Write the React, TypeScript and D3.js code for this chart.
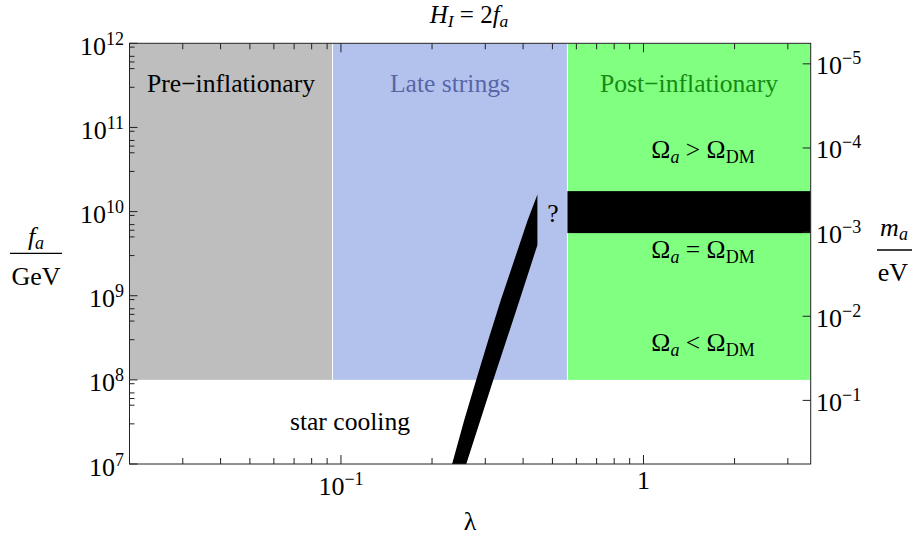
import React from 'react';
import * as d3 from 'd3';

// axis ranges
const lambdaDomain = [0.02, 3.57];
const faDomain = [1e7, 1e12];
const maPerFa = 5.7e6; // m_a [eV] = 5.7e6 / (f_a / GeV)

// ticks
const lambdaMajor = [0.1, 1];
const lambdaLabels = [
  { v: 0.1, base: '10', exp: '−1' },
  { v: 1, base: '1', exp: '' },
];
const lambdaMinorMult = [2, 3, 4, 5, 6, 7, 8, 9];
const faExps = [7, 8, 9, 10, 11, 12];
const faMinorMult = [3, 5, 6, 7, 9];
const maExps = [-5, -4, -3, -2, -1];

// regions
const regionNames = ['Pre−inflationary', 'Late strings', 'Post−inflationary'];
const regionEdges = [0.02, 0.0938, 0.5604, 3.57];
const regionFa = [1e8, 1e12];
const bandLambda = [0.5604, 3.57];
const bandFa = [5.55e9, 1.75e10];

// late-string strip
const stripLeftLambda = [0.233, 0.256, 0.28, 0.307, 0.338, 0.374, 0.414, 0.446];
const stripLeftFa = [1e7, 3.4e7, 1e8, 3e8, 9e8, 2.65e9, 7.9e9, 1.6e10];
const stripRightLambda = [0.446, 0.39, 0.319, 0.2595];
const stripRightFa = [4e9, 9e8, 1e8, 1e7];

const regionFill = ['#bebebe', '#b3c2ed', '#80ff80'];
const regionText = ['#000', '#5666a8', '#168a16'];

const W = 913;
const H = 546;
const m = { left: 129.5, right: 810.7, top: 43.3, bottom: 464 };
const serif = 'Liberation Serif, Times New Roman, Times, DejaVu Serif, serif';

export default function App() {
  const x = d3.scaleLog().domain(lambdaDomain).range([m.left, m.right]);
  const y = d3.scaleLog().domain(faDomain).range([m.bottom, m.top]);
  const yM = d3.scaleLog()
    .domain([maPerFa / faDomain[1], maPerFa / faDomain[0]])
    .range([m.top, m.bottom]);

  const lambdaMinor: number[] = [];
  [0.01, 0.1, 1].forEach(d => lambdaMinorMult.forEach(k => {
    const v = d * k;
    if (v > lambdaDomain[0] && v < lambdaDomain[1]) lambdaMinor.push(v);
  }));
  const faMinor: number[] = [];
  faExps.slice(0, -1).forEach(e => faMinorMult.forEach(k => faMinor.push(k * Math.pow(10, e))));

  const stripPts: [number, number][] = [
    ...stripLeftLambda.map((l, i) => [l, stripLeftFa[i]] as [number, number]),
    ...stripRightLambda.map((l, i) => [l, stripRightFa[i]] as [number, number]),
  ];
  const strip = d3.line<[number, number]>().x(d => x(d[0])).y(d => y(d[1]))(stripPts) + 'Z';

  const frame = '#222';
  const tp = { fontFamily: serif };

  return (
    <div style={{ position: 'absolute', left: 0, top: 0 }}>
      <svg width={W} height={H} style={{ display: 'block' }} fontFamily={serif}>
        <rect width={W} height={H} fill="#fff" />
        <defs>
          <clipPath id="plot">
            <rect x={m.left} y={m.top} width={m.right - m.left} height={m.bottom - m.top} />
          </clipPath>
        </defs>

        <g clipPath="url(#plot)">
          {regionNames.map((n, i) => (
            <rect key={n}
              x={x(regionEdges[i]) + (i > 0 ? 0.5 : 0)}
              y={y(regionFa[1])}
              width={x(regionEdges[i + 1]) - x(regionEdges[i]) - (i > 0 ? 0.5 : 0) - (i < 2 ? 0.5 : 0)}
              height={y(regionFa[0]) - y(regionFa[1])}
              fill={regionFill[i]} />
          ))}
          <rect x={x(bandLambda[0])} y={y(bandFa[1])}
            width={x(bandLambda[1]) - x(bandLambda[0])}
            height={y(bandFa[0]) - y(bandFa[1])} fill="#000" />
          <path d={strip} fill="#000" />
        </g>

        {/* region labels */}
        {regionNames.map((n, i) => (
          <text key={n} {...tp} x={(x(regionEdges[i]) + x(regionEdges[i + 1])) / 2} y={91.7}
            textAnchor="middle" fontSize={25.6} fill={regionText[i]}>{n}</text>
        ))}
        {[['>', 158.3], ['=', 258.4], ['<', 351]].map(([op, yy]) => (
          <text key={op as string} {...tp} x={703} y={yy as number} textAnchor="middle" fontSize={25.6}>
            <tspan>Ω</tspan>
            <tspan fontStyle="italic" fontSize={18} dy={5}>a</tspan>
            <tspan dy={-5}>{` ${op} Ω`}</tspan>
            <tspan fontSize={18} dy={5}>DM</tspan>
          </text>
        ))}
        <text {...tp} x={553} y={222} textAnchor="middle" fontSize={25.6}>?</text>
        <text {...tp} x={350} y={430} textAnchor="middle" fontSize={25.6}>star cooling</text>

        {/* frame */}
        <rect x={m.left} y={m.top} width={m.right - m.left} height={m.bottom - m.top}
          fill="none" stroke={frame} strokeWidth={1} />

        {/* x ticks, bottom and top */}
        {lambdaMinor.map(v => (
          <g key={'xm' + v} stroke={frame}>
            <line x1={x(v)} x2={x(v)} y1={m.bottom} y2={m.bottom - 6} />
            <line x1={x(v)} x2={x(v)} y1={m.top} y2={m.top + 6} />
          </g>
        ))}
        {lambdaMajor.map(v => (
          <g key={'xM' + v} stroke={frame}>
            <line x1={x(v)} x2={x(v)} y1={m.bottom} y2={m.bottom - 9} />
            <line x1={x(v)} x2={x(v)} y1={m.top} y2={m.top + 9} />
          </g>
        ))}
        {lambdaLabels.map(t => (
          <text key={'xl' + t.v} {...tp} x={x(t.v)} y={t.exp ? 495 : 489} textAnchor="middle" fontSize={26}>
            <tspan>{t.base}</tspan>
            {t.exp && <tspan fontSize={18} dy={-10}>{t.exp}</tspan>}
          </text>
        ))}

        {/* f_a ticks, left */}
        {faMinor.map(v => (
          <line key={'ym' + v} x1={m.left} x2={m.left + 5} y1={y(v)} y2={y(v)} stroke={frame} />
        ))}
        {faExps.map(e => (
          <g key={'yM' + e}>
            <line x1={m.left} x2={m.left + 8} y1={y(Math.pow(10, e))} y2={y(Math.pow(10, e))} stroke={frame} />
            <text {...tp} x={124} y={y(Math.pow(10, e)) + 11.5} textAnchor="end" fontSize={26}>
              <tspan>10</tspan>
              <tspan fontSize={18} dy={-10}>{e}</tspan>
            </text>
          </g>
        ))}

        {/* m_a ticks, right */}
        {maExps.map(e => (
          <g key={'mM' + e}>
            <line x1={m.right} x2={m.right - 8} y1={yM(Math.pow(10, e))} y2={yM(Math.pow(10, e))} stroke={frame} />
            <text {...tp} x={816} y={yM(Math.pow(10, e)) + 10.5} fontSize={26}>
              <tspan>10</tspan>
              <tspan fontSize={18} dy={-10}>{'−' + Math.abs(e)}</tspan>
            </text>
          </g>
        ))}

        {/* title */}
        <text {...tp} x={469} y={22.5} textAnchor="middle" fontSize={25}>
          <tspan fontStyle="italic">H</tspan>
          <tspan fontStyle="italic" fontSize={17.5} dy={4}>I</tspan>
          <tspan dy={-4}> = 2</tspan>
          <tspan fontStyle="italic">f</tspan>
          <tspan fontStyle="italic" fontSize={17.5} dy={4}>a</tspan>
        </text>

        {/* axis labels */}
        <text {...tp} x={470} y={530} textAnchor="middle" fontSize={26}>λ</text>

        <text {...tp} x={36} y={245} textAnchor="middle" fontSize={26}>
          <tspan fontStyle="italic">f</tspan>
          <tspan fontStyle="italic" fontSize={18} dy={4}>a</tspan>
        </text>
        <line x1={10} x2={62} y1={253.3} y2={253.3} stroke="#000" strokeWidth={1.3} />
        <text {...tp} x={36} y={285} textAnchor="middle" fontSize={26}>GeV</text>

        <text {...tp} x={894} y={236} textAnchor="middle" fontSize={26}>
          <tspan fontStyle="italic">m</tspan>
          <tspan fontStyle="italic" fontSize={18} dy={4}>a</tspan>
        </text>
        <line x1={877} x2={912} y1={250} y2={250} stroke="#000" strokeWidth={1.3} />
        <text {...tp} x={893} y={281} textAnchor="middle" fontSize={26}>eV</text>
      </svg>
    </div>
  );
}
